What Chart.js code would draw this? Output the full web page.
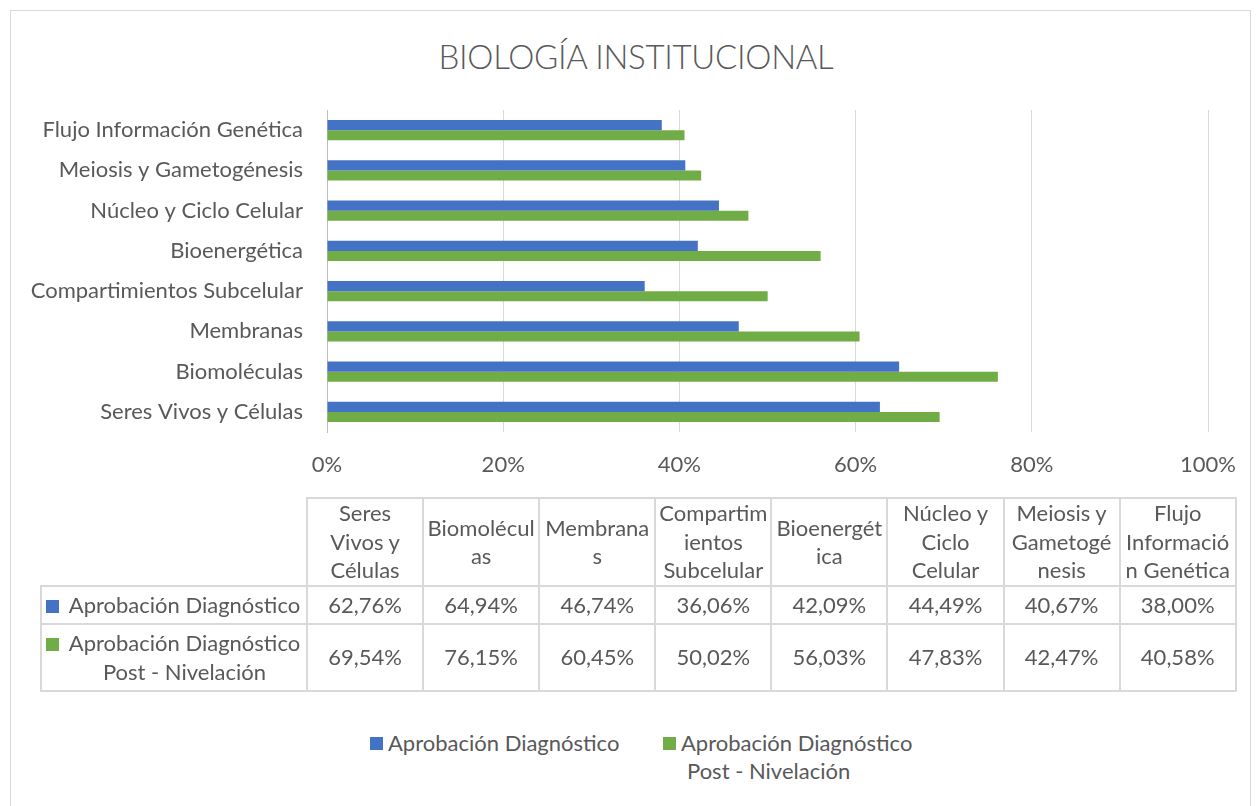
<!DOCTYPE html>
<html>
<head>
<meta charset="utf-8">
<script src="https://cdn.jsdelivr.net/npm/chart.js@4.4.1/dist/chart.umd.min.js"></script>
<style>
  html, body { margin: 0; padding: 0; background: #fff; }
  body { width: 1260px; height: 806px; overflow: hidden; position: relative; font-family: Lato, "Noto Sans", sans-serif; color: #595959; }
  #frame { position: absolute; left: 10px; top: 10px; width: 1241px; height: 830px; border: 1px solid #d9d9d9; box-sizing: border-box; }
  #title { position: absolute; left: 0; top: 35px; width: 1272px; text-align: center; font-size: 33px; font-weight: 300; line-height: 42px; letter-spacing: -0.3px; }
  #chartWrap { position: absolute; left: 0; top: 0; width: 1260px; height: 500px; }
  #dataTable { position: absolute; left: 40px; top: 497px; border-collapse: collapse; table-layout: fixed; font-size: 22px; color: #595959; }
  #dataTable td { border: 2px solid #d9d9d9; text-align: center; vertical-align: middle; padding: 0; line-height: 28.5px; white-space: nowrap; overflow: hidden; }
  #dataTable td.corner { border-top: none; border-left: none; }
  .sw { display: inline-block; width: 13px; height: 13px; }
  .rowlab { display: flex; align-items: flex-start; padding-left: 4px; }
  .rowlab .sw { margin-top: 9px; flex: none; }
  .rowlab .txt { flex: 1; text-align: center; padding-left: 4px; }
  #legend { position: absolute; top: 729px; left: 0; font-size: 22px; color: #595959; line-height: 28px; }
  .leg { position: absolute; display: flex; align-items: flex-start; white-space: nowrap; }
  .leg .sw { margin-top: 8px; margin-right: 5px; }
</style>
</head>
<body>
<div id="frame"></div>
<div id="title"></div>
<div id="chartWrap"><canvas id="c" width="1260" height="500"></canvas></div>
<table id="dataTable"></table>
<div id="legend"></div>
<script>
// ---- data ----
const chartTitle = 'BIOLOGÍA INSTITUCIONAL';
const categories = [
  'Seres Vivos y Células',
  'Biomoléculas',
  'Membranas',
  'Compartimientos Subcelular',
  'Bioenergética',
  'Núcleo y Ciclo Celular',
  'Meiosis y Gametogénesis',
  'Flujo Información Genética'
];
const tableHeaderLines = [
  ['Seres', 'Vivos y', 'Células'],
  ['Biomolécul', 'as'],
  ['Membrana', 's'],
  ['Compartim', 'ientos', 'Subcelular'],
  ['Bioenergét', 'ica'],
  ['Núcleo y', 'Ciclo', 'Celular'],
  ['Meiosis y', 'Gametogé', 'nesis'],
  ['Flujo', 'Informació', 'n Genética']
];
const seriesNames = ['Aprobación Diagnóstico', 'Aprobación Diagnóstico Post - Nivelación'];
const seriesNameLines = [['Aprobación Diagnóstico'], ['Aprobación Diagnóstico', 'Post - Nivelación']];
const aprobacionDiagnostico = [62.76, 64.94, 46.74, 36.06, 42.09, 44.49, 40.67, 38.00];
const aprobacionPostNivelacion = [69.54, 76.15, 60.45, 50.02, 56.03, 47.83, 42.47, 40.58];
const seriesColors = ['#4472C4', '#70AD47'];
const xTickValues = [0, 20, 40, 60, 80, 100];

// ---- chart ----
document.getElementById('title').textContent = chartTitle;
const textColor = '#595959';
const font = { family: 'Lato, "Noto Sans", sans-serif', size: 22 };
const seriesData = [aprobacionDiagnostico, aprobacionPostNivelacion];

new Chart(document.getElementById('c'), {
  type: 'bar',
  data: {
    labels: categories,
    datasets: seriesNames.map((name, i) => ({
      label: name,
      data: seriesData[i],
      backgroundColor: seriesColors[i],
      borderWidth: 0,
      categoryPercentage: 0.5,
      barPercentage: 1.0
    }))
  },
  options: {
    indexAxis: 'y',
    responsive: false,
    animation: false,
    layout: { padding: { left: 0, right: 52, top: 110, bottom: 0 } },
    plugins: { legend: { display: false }, tooltip: { enabled: false }, title: { display: false } },
    scales: {
      y: {
        reverse: true,
        grid: { display: false, drawTicks: false },
        border: { display: true, color: '#bfbfbf', width: 1 },
        ticks: { color: textColor, font: font, padding: 24, autoSkip: false },
        afterFit(scale) { scale.width = 327; }
      },
      x: {
        min: xTickValues[0],
        max: xTickValues[xTickValues.length - 1],
        afterBuildTicks(scale) { scale.ticks = xTickValues.map(v => ({ value: v })); },
        ticks: { color: textColor, font: font, padding: 20, maxRotation: 0, callback: v => v + '%' },
        grid: { color: '#d9d9d9', drawTicks: false, lineWidth: 1 },
        border: { display: false },
        afterFit(scale) { scale.height = 68; }
      }
    }
  }
});

// ---- data table ----
const fmt = v => v.toFixed(2).replace('.', ',') + '%';
const table = document.getElementById('dataTable');
const colgroup = document.createElement('colgroup');
[266].concat(categories.map(() => 116.1)).forEach(w => {
  const col = document.createElement('col'); col.style.width = w + 'px'; colgroup.appendChild(col);
});
table.appendChild(colgroup);
const hr = document.createElement('tr'); hr.style.height = '88px';
const corner = document.createElement('td'); corner.className = 'corner'; hr.appendChild(corner);
tableHeaderLines.forEach(lines => {
  const td = document.createElement('td'); td.innerHTML = lines.join('<br>'); hr.appendChild(td);
});
table.appendChild(hr);
const rowHeights = [38, 67];
seriesNames.forEach((name, i) => {
  const tr = document.createElement('tr'); tr.style.height = rowHeights[i] + 'px';
  const lab = document.createElement('td');
  const div = document.createElement('div'); div.className = 'rowlab';
  const sw = document.createElement('span'); sw.className = 'sw'; sw.style.background = seriesColors[i];
  const txt = document.createElement('div'); txt.className = 'txt'; txt.innerHTML = seriesNameLines[i].join('<br>');
  div.appendChild(sw); div.appendChild(txt); lab.appendChild(div); tr.appendChild(lab);
  seriesData[i].forEach(v => { const td = document.createElement('td'); td.textContent = fmt(v); tr.appendChild(td); });
  table.appendChild(tr);
});

// ---- legend ----
const legend = document.getElementById('legend');
const legendX = [370, 663];
seriesNames.forEach((name, i) => {
  const item = document.createElement('div'); item.className = 'leg'; item.style.left = legendX[i] + 'px';
  const sw = document.createElement('span'); sw.className = 'sw'; sw.style.background = seriesColors[i];
  const txt = document.createElement('div');
  txt.innerHTML = seriesNameLines[i].map((l, k) => k === 0 ? l : '<span style="padding-left:6px">' + l + '</span>').join('<br>');
  item.appendChild(sw); item.appendChild(txt); legend.appendChild(item);
});
</script>
</body>
</html>
